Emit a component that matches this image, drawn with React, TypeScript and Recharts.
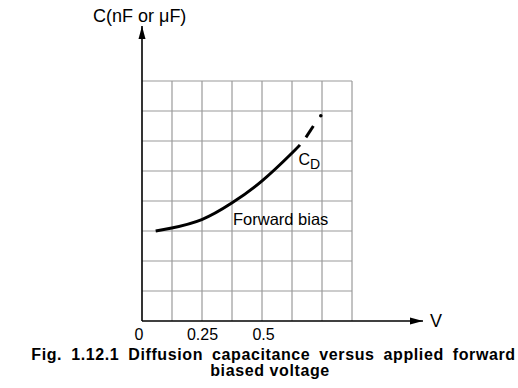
import React from "react";
import { LineChart, Line, XAxis, YAxis, ReferenceLine } from "recharts";

const xTicks = [0, 0.25, 0.5];
const gridX = [0.125, 0.25, 0.375, 0.5, 0.625, 0.75, 0.875];
const gridY = [1, 2, 3, 4, 5, 6, 7, 8];
const gridXMax = 0.875;
const gridYMax = 8;
const xMax = 1.1708;
const yMax = 9.8333;

const curveV = [0.057, 0.124, 0.249, 0.374, 0.499, 0.624, 0.658];
const curveC = [3.0, 3.1, 3.38, 3.93, 4.66, 5.59, 5.87];
const dashV = [0.683, 0.714];
const dashC = [6.12, 6.5];
const dotV = [0.745];
const dotC = [6.84];

const curveData = curveV.map((v, i) => ({ v, c: curveC[i] }));
const dashData = dashV.map((v, i) => ({ v, c: dashC[i] }));
const dotData = dotV.map((v, i) => ({ v, c: dotC[i] }));

const FONT = "'Liberation Sans', Arial, Helvetica, sans-serif";

const ArrowLine = (props: any) => {
  const { x1, y1, x2, y2 } = props;
  const horiz = Math.abs(y2 - y1) < Math.abs(x2 - x1);
  let head;
  if (horiz) {
    head = `${x2},${y2} ${x2 - 13},${y2 - 3.5} ${x2 - 13},${y2 + 3.5}`;
  } else {
    head = `${x1},${y1} ${x1 - 3.5},${y1 + 13} ${x1 + 3.5},${y1 + 13}`;
  }
  return (
    <g>
      <line x1={x1} y1={y1} x2={x2} y2={y2} stroke="#000" strokeWidth={1.6} />
      <polygon points={head} fill="#000" />
    </g>
  );
};

const tickOffsets: Record<string, number> = { "0": -3, "0.25": 0.5, "0.5": 1.5 };

const Tick = (props: any) => {
  const { x, payload } = props;
  const dx = tickOffsets[String(payload.value)] ?? 0;
  return (
    <text x={x + dx} y={340} textAnchor="middle" fontSize={16} fontFamily={FONT} fill="#000">
      {String(payload.value)}
    </text>
  );
};

export default function App() {
  return (
    <div style={{ position: "absolute", left: 0, top: 0, width: 518, height: 388, background: "#fff" }}>
      <LineChart
        width={518}
        height={388}
        data={curveData}
        margin={{ top: 26, left: 142, right: 95, bottom: 66 }}
      >
        <XAxis
          dataKey="v"
          type="number"
          domain={[0, xMax]}
          ticks={xTicks}
          axisLine={false}
          tickLine={false}
          height={1}
          tick={<Tick />}
          interval={0}
          allowDataOverflow
        />
        <YAxis type="number" domain={[0, yMax]} hide width={0} allowDataOverflow />
        {gridX.map((gx) => (
          <ReferenceLine
            key={"gx" + gx}
            segment={[{ x: gx, y: 0 }, { x: gx, y: gridYMax }]}
            stroke="#9a9a9a"
            strokeWidth={1.2}
            ifOverflow="visible"
          />
        ))}
        {gridY.map((gy) => (
          <ReferenceLine
            key={"gy" + gy}
            segment={[{ x: 0, y: gy }, { x: gridXMax, y: gy }]}
            stroke="#9a9a9a"
            strokeWidth={1.2}
            ifOverflow="visible"
          />
        ))}
        <ReferenceLine
          segment={[{ x: 0, y: 0 }, { x: xMax, y: 0 }]}
          shape={<ArrowLine />}
          ifOverflow="visible"
        />
        <ReferenceLine
          segment={[{ x: 0, y: yMax }, { x: 0, y: 0 }]}
          shape={<ArrowLine />}
          ifOverflow="visible"
        />
        <Line
          data={curveData}
          dataKey="c"
          type="natural"
          stroke="#000"
          strokeWidth={3}
          dot={false}
          activeDot={false}
          isAnimationActive={false}
        />
        <Line
          data={dashData}
          dataKey="c"
          type="linear"
          stroke="#000"
          strokeWidth={3}
          dot={false}
          activeDot={false}
          isAnimationActive={false}
        />
        <Line
          data={dotData}
          dataKey="c"
          type="linear"
          stroke="none"
          dot={{ r: 1.8, fill: "#000", stroke: "none" }}
          activeDot={false}
          isAnimationActive={false}
        />
      </LineChart>
      <svg
        width={518}
        height={388}
        style={{ position: "absolute", left: 0, top: 0, pointerEvents: "none" }}
      >
        <text x={93} y={22} fontSize={18} fontFamily={FONT} fill="#000">
          C(nF or μF)
        </text>
        <text x={430} y={327} fontSize={18} fontFamily={FONT} fill="#000">
          V
        </text>
        <text x={233} y={224.5} fontSize={16.5} fontFamily={FONT} fill="#000">
          Forward bias
        </text>
        <text x={298.5} y={164.5} fontSize={16} fontFamily={FONT} fill="#000">
          C
          <tspan fontSize={14} dy={4}>D</tspan>
        </text>
        <text
          x={273.5}
          y={360}
          fontSize={16}
          fontWeight="bold"
          fontFamily={FONT}
          textAnchor="middle"
          fill="#000"
          style={{ letterSpacing: "0.6px", wordSpacing: "4px" }}
        >
          Fig. 1.12.1 Diffusion capacitance versus applied forward
        </text>
        <text
          x={270}
          y={375.5}
          fontSize={16}
          fontWeight="bold"
          fontFamily={FONT}
          textAnchor="middle"
          fill="#000"
          style={{ letterSpacing: "0.6px" }}
        >
          biased voltage
        </text>
      </svg>
    </div>
  );
}
